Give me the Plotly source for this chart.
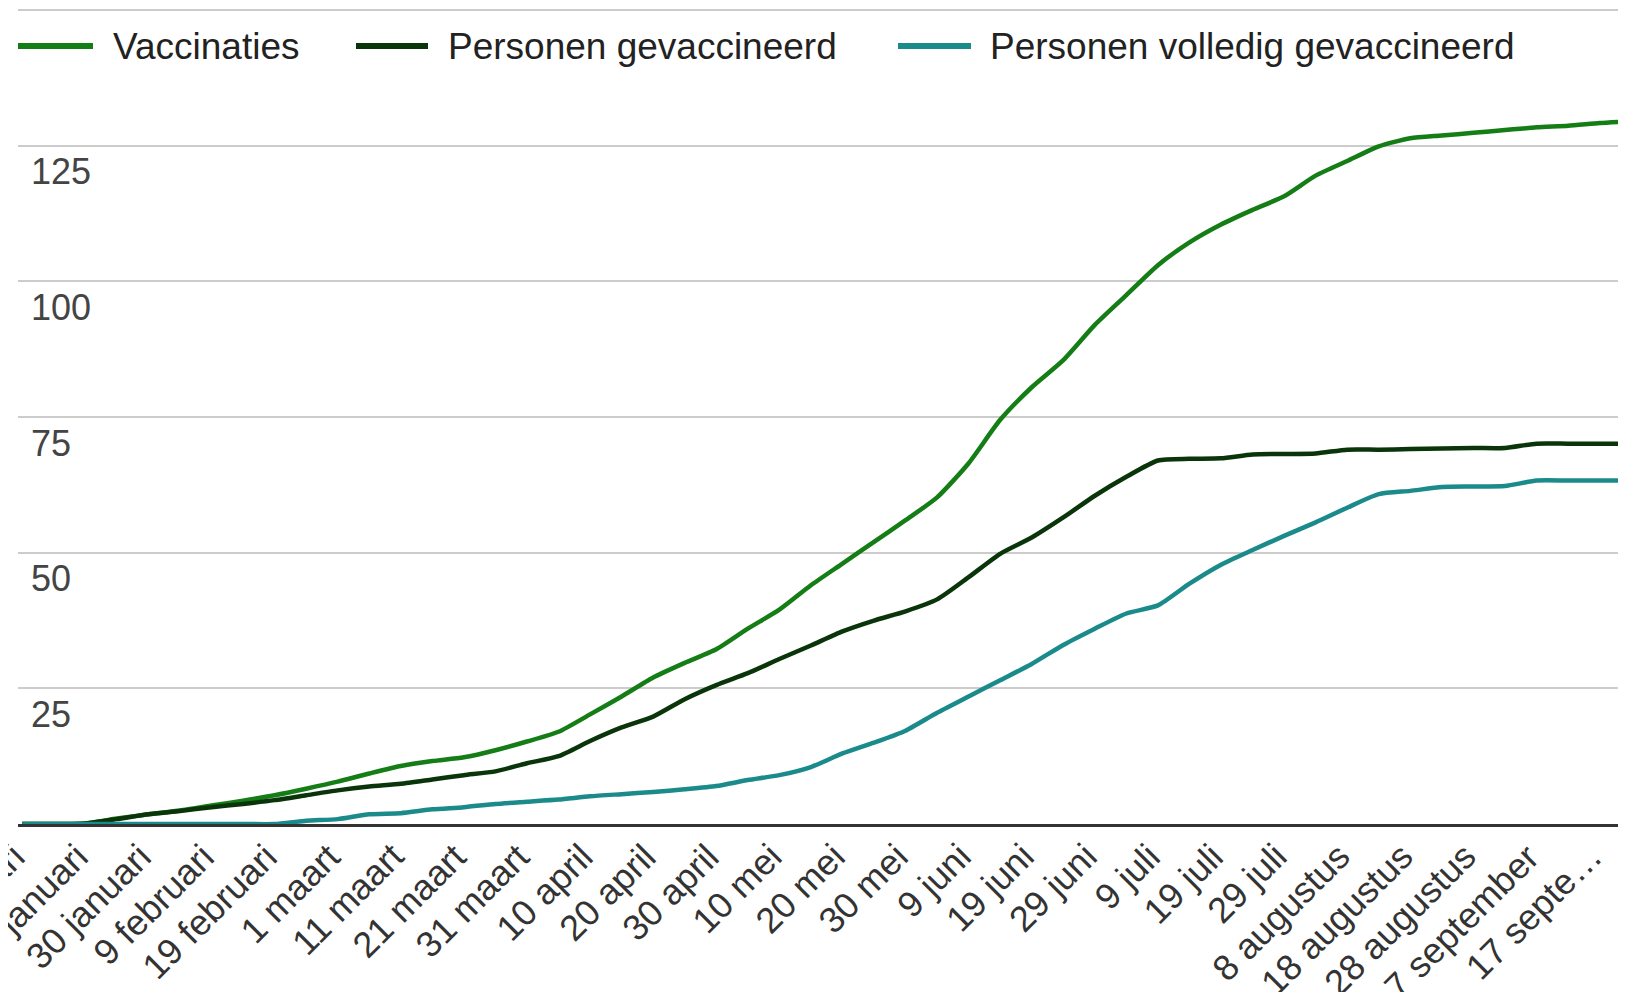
import plotly.graph_objects as go

# ---------------- data ----------------
dates = [
    "2021-01-10", "2021-01-15", "2021-01-20", "2021-01-25", "2021-01-30",
    "2021-02-04", "2021-02-09", "2021-02-14", "2021-02-19", "2021-02-24",
    "2021-03-01", "2021-03-06", "2021-03-11", "2021-03-16", "2021-03-21", "2021-03-26", "2021-03-31",
    "2021-04-05", "2021-04-10", "2021-04-15", "2021-04-20", "2021-04-25", "2021-04-30",
    "2021-05-05", "2021-05-10", "2021-05-15", "2021-05-20", "2021-05-25", "2021-05-30",
    "2021-06-04", "2021-06-09", "2021-06-14", "2021-06-19", "2021-06-24", "2021-06-29",
    "2021-07-04", "2021-07-09", "2021-07-14", "2021-07-19", "2021-07-24", "2021-07-29",
    "2021-08-03", "2021-08-08", "2021-08-13", "2021-08-18", "2021-08-23", "2021-08-28",
    "2021-09-02", "2021-09-07", "2021-09-12", "2021-09-17", "2021-09-20",
]

vaccinaties = [
    0, 0, 0.1, 1.0, 1.8,
    2.5, 3.4, 4.3, 5.3, 6.5,
    7.8, 9.3, 10.7, 11.6, 12.3, 13.6, 15.2,
    17.0, 20.2, 23.5, 27.0, 29.7, 32.2,
    36.0, 39.5, 44.0, 48.0, 52.0, 56.0,
    60.2, 66.5, 74.5, 80.5, 85.5, 92.0,
    97.5, 103.0, 107.2, 110.5, 113.2, 115.7,
    119.5, 122.2, 124.9, 126.4, 126.9, 127.4,
    127.9, 128.4, 128.7, 129.2, 129.4,
]

personen_gevaccineerd = [
    0, 0, 0.1, 0.9, 1.8,
    2.4, 3.1, 3.7, 4.4, 5.3,
    6.2, 6.9, 7.4, 8.2, 9.0, 9.7, 11.2,
    12.5, 15.3, 17.8, 19.8, 23.0, 25.6,
    27.8, 30.4, 32.9, 35.5, 37.5, 39.2,
    41.4, 45.5, 49.8, 52.8, 56.5, 60.5,
    64.0, 67.0, 67.3, 67.4, 68.1, 68.2,
    68.3, 69.0, 69.0, 69.1, 69.2, 69.3,
    69.3, 70.1, 70.1, 70.1, 70.1,
]

personen_volledig = [
    0, 0, 0, 0, 0,
    0, 0, 0, 0, 0.6,
    0.9, 1.8, 2.0, 2.7, 3.1, 3.7, 4.1,
    4.5, 5.1, 5.5, 5.9, 6.4, 7.0,
    8.1, 9.0, 10.5, 13.0, 15.0, 17.2,
    20.5, 23.5, 26.5, 29.5, 33.0, 36.0,
    38.8, 40.3, 44.3, 47.8, 50.5, 53.1,
    55.6, 58.3, 60.8, 61.4, 62.1, 62.2,
    62.3, 63.3, 63.3, 63.3, 63.3,
]

series_names = ["Vaccinaties", "Personen gevaccineerd", "Personen volledig gevaccineerd"]
series_colors = ["#157d15", "#0a350a", "#1b8a8a"]

tick_dates = [
    "2021-01-10", "2021-01-20", "2021-01-30", "2021-02-09", "2021-02-19",
    "2021-03-01", "2021-03-11", "2021-03-21", "2021-03-31", "2021-04-10",
    "2021-04-20", "2021-04-30", "2021-05-10", "2021-05-20", "2021-05-30",
    "2021-06-09", "2021-06-19", "2021-06-29", "2021-07-09", "2021-07-19",
    "2021-07-29", "2021-08-08", "2021-08-18", "2021-08-28", "2021-09-07",
    "2021-09-17",
]
tick_labels = [
    "10 januari", "20 januari", "30 januari", "9 februari", "19 februari",
    "1 maart", "11 maart", "21 maart", "31 maart", "10 april",
    "20 april", "30 april", "10 mei", "20 mei", "30 mei",
    "9 juni", "19 juni", "29 juni", "9 juli", "19 juli",
    "29 juli", "8 augustus", "18 augustus", "28 augustus", "7 september",
    "17 septe\u2026",
]

y_ticks = [0, 25, 50, 75, 100, 125, 150]
y_tick_labels = ["", "25", "50", "75", "100", "125", ""]

# ---------------- geometry (page pixels) ----------------
W, H = 1610, 984          # page is 1626x1000 with 8px body margin
OFF = 8
PL, PR, PT, PB = 18, 1618, 8, 824   # plot area in page pixels

def px(xp):
    return (xp - PL) / (PR - PL)

def py(yp):
    return 1 - (yp - PT) / (PB - PT)

FONT = "Arial, Liberation Sans, sans-serif"

series = [vaccinaties, personen_gevaccineerd, personen_volledig]

fig = go.Figure()
for name, vals, col in zip(series_names, series, series_colors):
    fig.add_trace(go.Scatter(
        x=dates, y=vals, name=name, mode="lines",
        line=dict(color=col, width=4.5, shape="spline", smoothing=0.6),
        showlegend=False,
    ))

# custom legend (long line samples like the original)
legend_items = [
    (18, 93, 111),
    (356, 428, 446),
    (898, 971, 988),
]
shapes = []
annotations = []
for (x0, x1, xt), name, col in zip(legend_items, series_names, series_colors):
    shapes.append(dict(type="line", xref="paper", yref="paper",
                       x0=px(x0), x1=px(x1), y0=py(46), y1=py(46),
                       line=dict(color=col, width=6)))
    annotations.append(dict(xref="paper", yref="paper", x=px(xt), y=py(46),
                            xanchor="left", yanchor="middle", showarrow=False,
                            text=name, font=dict(family=FONT, size=37, color="#222222")))

# slanted x tick labels, positioned on the date axis (kept even where cut by the edge)
for d, lab in zip(tick_dates, tick_labels):
    annotations.append(dict(xref="x", yref="paper", x=d, y=py(833),
                            xanchor="right", yanchor="top", xshift=13,
                            textangle=-45, showarrow=False, text=lab,
                            font=dict(family=FONT, size=36, color="#333333")))

fig.update_layout(
    template="none",
    width=W, height=H,
    margin=dict(l=PL - OFF, r=W - (PR - OFF), t=PT - OFF, b=H - (PB - OFF), pad=0),
    paper_bgcolor="white", plot_bgcolor="white",
    shapes=shapes, annotations=annotations,
    showlegend=False,
    xaxis=dict(
        type="date",
        automargin=False,
        range=["2021-01-09 08:00", "2021-09-19 22:00"],
        tickvals=tick_dates, ticktext=tick_labels,
        showticklabels=False,
        showgrid=False, zeroline=False,
        showline=True, linecolor="#333333", linewidth=3,
        ticks="",
    ),
    yaxis=dict(
        automargin=False,
        range=[0, 150.4],
        tickvals=y_ticks, ticktext=y_tick_labels,
        ticklabelposition="inside",
        ticklabelshift=26,
        ticklabelstandoff=10,
        tickfont=dict(family=FONT, size=36, color="#444444"),
        showgrid=True, gridcolor="#cccccc", gridwidth=2,
        zeroline=False, showline=False, ticks="",
    ),
)

fig.write_html("out.html")
